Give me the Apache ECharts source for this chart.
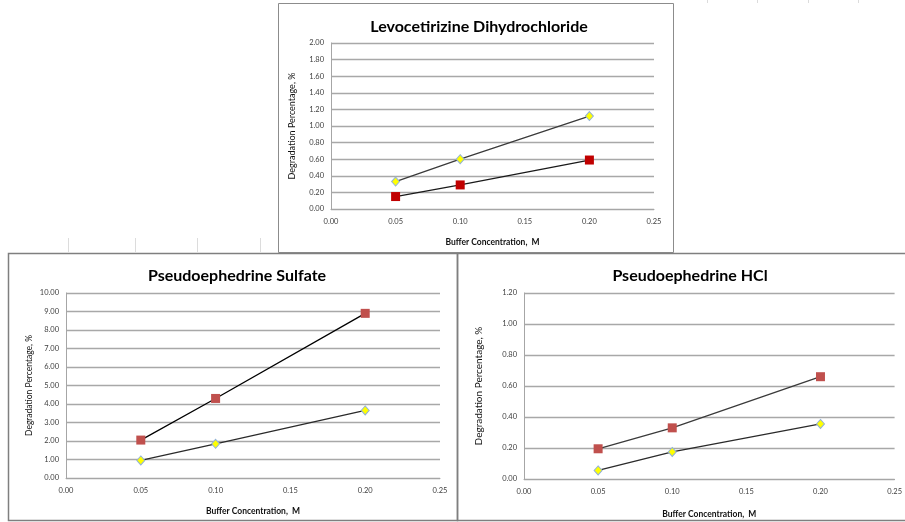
<!DOCTYPE html>
<html>
<head>
<meta charset="utf-8">
<script src="https://cdn.jsdelivr.net/npm/echarts@6/dist/echarts.min.js"></script>
<style>
  html, body { margin: 0; padding: 0; background: #fff; }
  #chart { width: 905px; height: 522px; }
</style>
</head>
<body>
<div id="chart"></div>
<script>
// Buffer concentrations (M) used in every panel
const concentrations = [0.05, 0.10, 0.20];

// Levocetirizine Dihydrochloride – degradation (%)
const levoYellow = [0.33, 0.60, 1.12];
const levoRed = [0.15, 0.29, 0.59];

// Pseudoephedrine Sulfate – degradation (%)
const sulfateRed = [2.05, 4.30, 8.90];
const sulfateYellow = [0.95, 1.85, 3.65];

// Pseudoephedrine HCl – degradation (%)
const hclRed = [0.195, 0.33, 0.66];
const hclYellow = [0.055, 0.175, 0.355];

const titles = ['Levocetirizine Dihydrochloride', 'Pseudoephedrine Sulfate', 'Pseudoephedrine HCl'];
const xName = 'Buffer Concentration,  M';
const yName = 'Degradation Percentage, %';

const FONT = 'Lato, "Open Sans", sans-serif';

const pairs = (ys) => concentrations.map((x, i) => [x, ys[i]]);

function xAxisFor(gridIndex, gap) {
  return {
    gridIndex, type: 'value', min: 0, max: 0.25, interval: 0.05,
    name: xName, nameLocation: 'middle', nameGap: gap,
    nameTextStyle: { fontFamily: FONT, fontSize: 8.5, color: '#111', fontWeight: 'bold' },
    axisLine: { show: true, lineStyle: { color: '#a6a6a6', width: 1 } },
    axisTick: { show: false },
    splitLine: { show: false },
    axisLabel: { formatter: v => v.toFixed(2), fontFamily: FONT, fontSize: 7.5, color: '#404040', margin: 9 }
  };
}

function yAxisFor(gridIndex, max, interval, gap, nameSize) {
  return {
    gridIndex, type: 'value', min: 0, max, interval,
    name: yName, nameLocation: 'middle', nameGap: gap, nameRotate: 90,
    nameTextStyle: { fontFamily: FONT, fontSize: nameSize, color: '#111' },
    axisLine: { show: true, lineStyle: { color: '#a6a6a6', width: 1 } },
    axisTick: { show: false },
    splitLine: { show: true, lineStyle: { color: '#a8a8a8', width: 1.3 } },
    axisLabel: { formatter: v => v.toFixed(2), fontFamily: FONT, fontSize: 7.5, color: '#404040', margin: 7 }
  };
}

function lineSeries(idx, ys, kind, squareColor, lineColor) {
  const isSquare = kind === 'square';
  return {
    type: 'line', xAxisIndex: idx, yAxisIndex: idx,
    data: pairs(ys),
    symbol: isSquare ? 'rect' : 'diamond',
    symbolSize: isSquare ? 9 : [8, 9],
    lineStyle: { color: lineColor, width: 1.3 },
    itemStyle: isSquare
      ? { color: squareColor, borderColor: squareColor, borderWidth: 0 }
      : { color: '#ffff00', borderColor: '#93b3d6', borderWidth: 1 },
    emphasis: { disabled: true },
    animation: false,
    z: 3
  };
}

// Faint worksheet cell borders around the embedded charts
const sheetLines = [];
[68, 135, 197, 260].forEach(x => sheetLines.push({ type: 'line', shape: { x1: x + 0.5, y1: 238, x2: x + 0.5, y2: 252 }, style: { stroke: '#dcdcdc', lineWidth: 1 } }));
[707, 757, 808, 858].forEach(x => sheetLines.push({ type: 'line', shape: { x1: x + 0.5, y1: 0, x2: x + 0.5, y2: 3 }, style: { stroke: '#dcdcdc', lineWidth: 1 } }));

const titleStyle = { fontFamily: FONT, fontSize: 16, fontWeight: 'bold', color: '#000' };

const chart = echarts.init(document.getElementById('chart'), null, { renderer: 'canvas' });
chart.setOption({
  animation: false,
  backgroundColor: '#ffffff',
  title: [
    { text: titles[0], left: 474, top: 22, textAlign: 'center', textVerticalAlign: 'middle', textStyle: titleStyle },
    { text: titles[1], left: 232, top: 271, textAlign: 'center', textVerticalAlign: 'middle', textStyle: titleStyle },
    { text: titles[2], left: 685, top: 271, textAlign: 'center', textVerticalAlign: 'middle', textStyle: titleStyle }
  ],
  grid: [
    { left: 331, top: 43, width: 323, height: 166 },
    { left: 66, top: 293, width: 374, height: 185 },
    { left: 524, top: 293, width: 373, height: 186 }
  ],
  xAxis: [xAxisFor(0, 29), xAxisFor(1, 29), xAxisFor(2, 31)],
  yAxis: [
    yAxisFor(0, 2, 0.2, 34, 9),
    yAxisFor(1, 10, 1, 32, 8.5),
    yAxisFor(2, 1.2, 0.2, 40, 10)
  ],
  series: [
    lineSeries(0, levoYellow, 'diamond', null, '#3a3a3a'),
    lineSeries(0, levoRed, 'square', '#c00000', '#1a1a1a'),
    lineSeries(1, sulfateRed, 'square', '#c0504d', '#000000'),
    lineSeries(1, sulfateYellow, 'diamond', null, '#2a2a2a'),
    lineSeries(2, hclRed, 'square', '#c0504d', '#3a3a3a'),
    lineSeries(2, hclYellow, 'diamond', null, '#2a2a2a')
  ],
  graphic: [
    { type: 'rect', shape: { x: 278.5, y: 3.5, width: 395, height: 249 }, style: { fill: 'none', stroke: '#8c8c8c', lineWidth: 1 }, z: 10 },
    { type: 'rect', shape: { x: 8.5, y: 253.5, width: 449, height: 267 }, style: { fill: 'none', stroke: '#7f7f7f', lineWidth: 1.5 }, z: 10 },
    { type: 'rect', shape: { x: 457.5, y: 253.5, width: 460, height: 267 }, style: { fill: 'none', stroke: '#7f7f7f', lineWidth: 1.5 }, z: 10 }
  ].concat(sheetLines)
});
</script>
</body>
</html>
